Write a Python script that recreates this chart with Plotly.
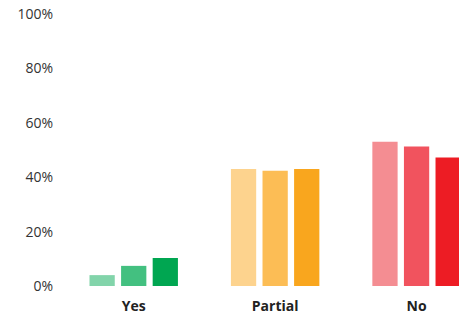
import plotly.graph_objects as go

categories = ["Yes", "Partial", "No"]
series1 = [4.0, 43.0, 53.0]
series2 = [7.4, 42.4, 51.3]
series3 = [10.3, 43.0, 47.2]
tick_vals = [0, 20, 40, 60, 80, 100]
tick_text = ["0%", "20%", "40%", "60%", "80%", "100%"]

colors1 = ["#82d4aa", "#fdd38e", "#f48d92"]
colors2 = ["#43c080", "#fcbd55", "#f1535e"]
colors3 = ["#00a651", "#f9a61e", "#ed1c24"]

fig = go.Figure()
for vals, cols in [(series1, colors1), (series2, colors2), (series3, colors3)]:
    fig.add_trace(go.Bar(x=categories, y=vals, marker=dict(color=cols, line=dict(width=0)),
                         hoverinfo="skip", showlegend=False))

fig.update_layout(
    width=459, height=315,
    margin=dict(l=63, r=0, t=14, b=29),
    paper_bgcolor="white", plot_bgcolor="white",
    barmode="group", bargap=0.33, bargroupgap=0.2,
    font=dict(family="Open Sans, sans-serif", color="#333333", size=14),
    xaxis=dict(range=[-0.5, 2.30], showgrid=False, zeroline=False, showline=False,
               ticks="", ticklabelstandoff=10,
               tickfont=dict(family="Open Sans, sans-serif", size=14, color="#222222", weight="bold")),
    yaxis=dict(range=[0, 100], tickvals=tick_vals, ticktext=tick_text, showgrid=False,
               zeroline=False, showline=False, ticks="", ticklabelstandoff=9,
               tickfont=dict(family="Open Sans, sans-serif", size=14, color="#333333")),
)
fig.write_html("out.html", config={"displayModeBar": False},
               post_script="document.body.style.margin='0';document.body.style.overflow='hidden';")
